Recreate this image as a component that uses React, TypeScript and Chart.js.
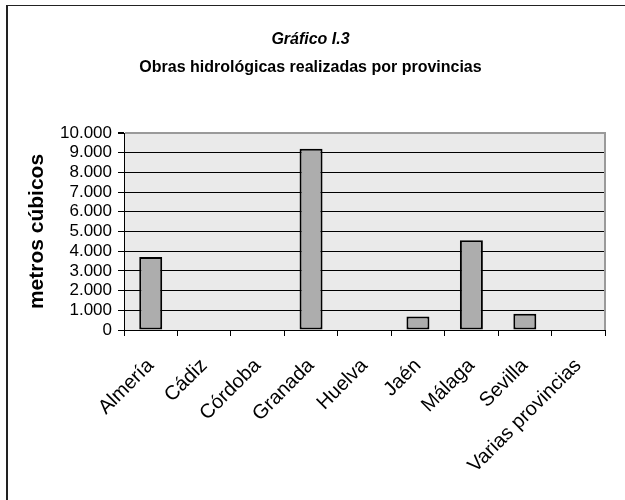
import React, { useEffect, useRef } from 'react';
import { Chart, registerables } from 'chart.js';

Chart.register(...registerables);

const categories: string[] = [
  'Almería',
  'Cádiz',
  'Córdoba',
  'Granada',
  'Huelva',
  'Jaén',
  'Málaga',
  'Sevilla',
  'Varias provincias',
];
const volumes: number[] = [3700, 0, 0, 9200, 0, 680, 4550, 830, 0];
const yMin = 0;
const yMax = 10000;
const yStep = 1000;
const titleText = 'Gráfico I.3';
const subtitleText = 'Obras hidrológicas realizadas por provincias';
const yAxisTitle = 'metros cúbicos';

const FONT = "'Liberation Sans', Arial, Helvetica, sans-serif";

function formatThousands(v: number): string {
  return String(v).replace(/\B(?=(\d{3})+(?!\d))/g, '.');
}

const framePlugin = {
  id: 'frameAndPlot',
  beforeDraw(chart: any) {
    const { ctx, chartArea, width, height } = chart;
    ctx.save();
    ctx.fillStyle = '#ffffff';
    ctx.fillRect(0, 0, width, height);
    ctx.fillStyle = '#222222';
    ctx.fillRect(6, 5, 2, height - 5);
    ctx.fillRect(6, 5, width - 6, 1);
    ctx.fillStyle = '#eaeaea';
    ctx.fillRect(chartArea.left, chartArea.top, chartArea.right - chartArea.left, chartArea.bottom - chartArea.top);
    ctx.restore();
  },
  afterDraw(chart: any) {
    const { ctx, chartArea } = chart;
    ctx.save();
    ctx.fillStyle = '#9a9a9a';
    ctx.fillRect(chartArea.right - 1, chartArea.top - 1, 2, chartArea.bottom - chartArea.top + 1);
    ctx.restore();
  },
};

export default function App() {
  const canvasRef = useRef<HTMLCanvasElement | null>(null);

  useEffect(() => {
    const canvas = canvasRef.current;
    if (!canvas) return;
    const chart = new Chart(canvas, {
      type: 'bar',
      data: {
        labels: categories,
        datasets: [
          {
            label: yAxisTitle,
            data: volumes,
            backgroundColor: '#adadad',
            borderColor: '#000000',
            borderWidth: 2,
            borderSkipped: false,
            categoryPercentage: 1,
            barPercentage: 0.43,
          },
        ],
      },
      options: {
        responsive: false,
        animation: false,
        devicePixelRatio: 1,
        layout: { padding: { left: 16, right: 20, top: 0, bottom: 0 } },
        plugins: {
          legend: { display: false },
          tooltip: { enabled: false },
          title: {
            display: true,
            text: titleText,
            color: '#000000',
            font: { family: FONT, size: 16, weight: 'bold', style: 'italic' },
            padding: { top: 30, bottom: 9 },
          },
          subtitle: {
            display: true,
            text: subtitleText,
            color: '#000000',
            font: { family: FONT, size: 16, weight: 'bold' },
            padding: { top: 0, bottom: 55.6 },
          },
        },
        scales: {
          x: {
            offset: true,
            afterFit: (s: any) => {
              s.height = 170;
            },
            grid: {
              display: true,
              offset: true,
              drawOnChartArea: false,
              drawTicks: true,
              tickLength: 6,
              color: '#000000',
              tickColor: '#000000',
            },
            border: { display: true, color: '#000000', width: 1 },
            ticks: {
              autoSkip: false,
              minRotation: 45,
              maxRotation: 45,
              padding: 18,
              color: '#000000',
              font: { family: FONT, size: 20 },
            },
          },
          y: {
            min: yMin,
            max: yMax,
            afterFit: (s: any) => {
              s.width = 108;
            },
            grid: {
              display: true,
              drawTicks: true,
              tickLength: 6,
              color: (c: any) => (c.tick && c.tick.value === yMax ? '#9a9a9a' : '#000000'),
              lineWidth: (c: any) => (c.tick && c.tick.value === yMax ? 2 : 1),
              tickColor: '#000000',
            },
            border: { display: true, color: '#000000', width: 1 },
            ticks: {
              stepSize: yStep,
              autoSkip: false,
              padding: 6,
              color: '#000000',
              font: { family: FONT, size: 17 },
              callback: (v: any) => formatThousands(Number(v)),
            },
            title: {
              display: true,
              text: yAxisTitle,
              color: '#000000',
              font: { family: FONT, size: 21, weight: 'bold' },
              padding: { top: 9, bottom: 0 },
            },
          },
        },
      },
      plugins: [framePlugin],
    });
    return () => chart.destroy();
  }, []);

  return (
    <div style={{ position: 'fixed', left: 0, top: 0, width: 625, height: 500, background: '#fff' }}>
      <canvas ref={canvasRef} width={625} height={500} style={{ display: 'block' }} />
    </div>
  );
}
